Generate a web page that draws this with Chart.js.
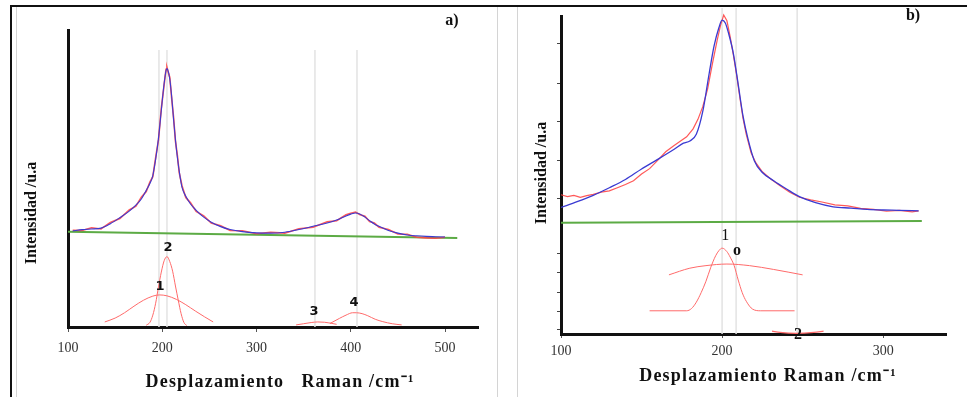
<!DOCTYPE html>
<html lang="es">
<head>
<meta charset="utf-8">
<title>Espectros Raman</title>
<script src="https://cdn.jsdelivr.net/npm/chart.js@4.4.0/dist/chart.umd.min.js"></script>
<style>
  body { margin: 0; background: #fff; }
  #lienzo { position: relative; width: 967px; height: 397px; overflow: hidden; }
  #lienzo canvas { position: absolute; top: 0; }
  #graficoA { left: 0; }
  #graficoB { left: 490px; }
  .linea { position: absolute; }
</style>
</head>
<body>
<div id="lienzo">
  <div class="linea" style="left:10px;top:5px;width:957px;border-top:2px solid #111"></div>
  <div class="linea" style="left:10px;top:5px;height:392px;border-left:2px solid #111"></div>
  <div class="linea" style="left:16px;top:7px;height:390px;border-left:1px solid #d4d4d4"></div>
  <div class="linea" style="left:497px;top:7px;height:390px;border-left:1px solid #d4d4d4"></div>
  <div class="linea" style="left:517px;top:7px;height:390px;border-left:1px solid #d4d4d4"></div>
  <canvas id="graficoA" width="490" height="397"></canvas>
  <canvas id="graficoB" width="477" height="397"></canvas>
</div>
<script>
// ---- Panel a) ----
const ramanA = [105,115,125,135,145,155,165,172,178,183,187,190,193,196,199,202,204,205,206,208,210,212,214,216,218,221,225,230,236,244,252,262,272,285,300,315,330,345,360,375,385,395,400,405,410,415,420,425,430,440,450,460,470,480,490,500];
const experimentalA = [32.6,32.5,33.4,33.0,35.2,36.5,39.4,40.7,43.8,45.6,48.9,50.6,57.0,63.0,73.6,81.6,86.8,87.4,86.2,84.0,77.0,70.6,62.6,57.9,52.0,47.5,43.6,41.8,38.9,37.4,35.0,34.1,32.5,32.4,31.4,31.9,31.6,33.1,33.6,35.4,35.8,37.8,38.3,38.7,37.8,37.3,35.5,35.0,33.6,32.8,31.3,31.2,30.2,30.0,29.9,30.2];
const ajusteA = [32.3,32.8,33.0,33.3,34.8,36.8,39.0,41.0,43.2,46.0,48.4,51.0,56.5,63.5,73.0,82.0,86.3,87.0,86.5,83.5,77.5,70.0,63.0,57.3,52.5,47.0,44.0,41.4,39.3,37.0,35.3,33.8,32.8,32.1,31.7,31.6,31.9,32.8,33.9,35.0,36.0,37.4,38.0,38.4,38.0,37.0,35.8,34.7,33.9,32.5,31.6,31.0,30.7,30.5,30.4,30.3];
const lineaBaseXA = [100, 513];
const lineaBaseA = [32.1, 30.0];
const banda1XA = [139,150,160,170,180,190,197,205,215,225,235,245,254];
const banda1A = [1.7,3.0,4.8,7.0,9.0,10.4,10.8,10.5,9.3,7.5,5.4,3.4,1.7];
const banda2XA = [183,187,190,193,196,199,202,205,208,211,214,217,220,223,226];
const banda2A = [0.6,1.6,4.0,8.0,13.5,18.5,22.3,23.7,22.0,18.8,13.8,9.0,4.5,1.5,0.5];
const banda3XA = [342,350,358,365,372,380,385];
const banda3A = [0.7,1.1,1.5,1.7,1.6,1.2,0.9];
const banda4XA = [378,388,395,402,406,412,418,426,434,444,454];
const banda4A = [1.2,2.9,4.0,4.8,4.8,4.5,3.8,2.6,1.8,1.1,0.7];
const rejillaA = [196.5, 205, 362, 406.6];
const altoRejillaA = 93.3;
const ticksXA = [100, 200, 300, 400, 500];
const picosA = ['1', '2', '3', '4'];
const picosXA = [197.6, 206, 361, 403.4];
const picosYA = [13.5, 26.6, 5.1, 8.1];

// ---- Panel b) ----
const ramanExpB = [100,104,108,112,116,120,125,130,135,140,145,150,155,160,165,170,174,178,182,185,188,191,194,197,199,201,203,205,207,209,211,213,215,218,221,225,230,236,242,248,255,262,270,278,286,294,302,310,318,322];
const experimentalB = [43.8,43.2,43.6,43.0,43.5,43.9,44.6,45.0,46.0,47.0,48.2,50.3,52.0,54.6,57.3,59.2,60.6,62.0,64.5,67.5,71.5,77.0,85.0,92.5,97.0,100.3,98.5,93.5,87.8,81.5,74.5,67.8,62.8,57.0,53.8,51.0,48.8,46.6,44.6,43.0,42.2,41.5,40.6,40.3,39.5,39.2,38.6,38.9,38.4,38.7];
const ramanAjusteB = [100,110,120,130,140,150,160,170,176,180,184,188,192,195,198,200,202,204,207,210,213,216,220,225,232,240,248,258,269,280,290,300,310,322];
const ajusteB = [39.8,41.6,43.6,46.0,48.6,51.9,54.9,58.0,60.0,60.7,62.8,70.0,82.0,90.5,96.3,98.7,97.8,94.6,88.2,78.5,68.5,61.5,54.5,50.8,48.2,45.6,43.2,41.3,40.0,39.6,39.2,39.0,38.9,38.7];
const lineaBaseXB = [100, 324];
const lineaBaseB = [35.0, 35.5];
const banda1XB = [155,178,181,184,187,190,193,196,198,200,203,205,207.5,210,212.5,215,219,224,245];
const banda1B = [7.3,7.3,8.0,10.0,13.0,16.6,21.0,24.6,26.2,27.0,25.9,24.2,21.5,17.0,13.0,10.3,7.8,7.3,7.3];
const bandaOXB = [167,180,190,203,217,232,250];
const bandaOB = [18.6,20.7,21.5,22.0,21.5,20.3,18.6];
const banda2XB = [231,236,246,257,263];
const banda2B = [0.9,0.5,0.2,0.5,0.9];
const rejillaB = [200, 208.7, 246.6];
const altoRejillaB = 102.5;
const ticksXB = [100, 200, 300];
const ticksYB = [91.2, 78.9, 66.7, 54.7, 42.5, 25.2, 19.2, 13.2, 7.2, 1.3];
const picosB = ['1', 'o', '2'];
const picosXB = [201.9, 209.3, 247.2];
const picosYB = [30.8, 26.1, -0.3];

const ROJO = 'rgba(255, 70, 70, 0.9)';
const AZUL = '#3a3ad2';
const VERDE = '#5cab45';
const BANDA = '#ff6a6a';
const SERIF = '"Liberation Serif", "Times New Roman", serif';

function serie(xs, ys) {
    return xs.map((x, i) => ({ x: x, y: ys[i] }));
}

function linea(data, color, ancho, orden, extra) {
    return Object.assign({
        data: data,
        borderColor: color,
        borderWidth: ancho,
        pointRadius: 0,
        fill: false,
        order: orden
    }, extra || {});
}

function rejilla(valores, alto, clip) {
    return valores.map(v => linea([{ x: v, y: 0 }, { x: v, y: alto }], '#e3e3e3', 1.5, 20, { clip: clip }));
}

// textos del panel: numeros de banda, titulos de ejes, letra del panel
function rotulos(cfg) {
    return {
        id: 'rotulos',
        afterDraw(chart) {
            const ctx = chart.ctx;
            const sx = chart.scales.x, sy = chart.scales.y;
            ctx.save();
            ctx.fillStyle = '#111';
            ctx.textAlign = 'center';
            ctx.textBaseline = 'middle';
            cfg.picos.forEach((t, i) => {
                ctx.font = cfg.fuentePicos[i];
                ctx.fillText(t, sx.getPixelForValue(cfg.picosX[i]), sy.getPixelForValue(cfg.picosY[i]));
            });
            ctx.font = 'bold 16px ' + SERIF;
            ctx.fillText(cfg.letra, cfg.letraPos[0], cfg.letraPos[1]);
            ctx.font = 'bold 18px ' + SERIF;
            ctx.letterSpacing = '1.2px';
            ctx.fillText(cfg.tituloX, cfg.tituloXPos[0], cfg.tituloXPos[1]);
            ctx.letterSpacing = '0px';
            ctx.font = 'bold 16px ' + SERIF;
            ctx.translate(cfg.tituloYPos[0], cfg.tituloYPos[1]);
            ctx.rotate(-Math.PI / 2);
            ctx.fillText('Intensidad /u.a', 0, 0);
            ctx.restore();
        }
    };
}

function opciones(cfg) {
    return {
        responsive: false,
        animation: false,
        layout: { padding: cfg.padding },
        plugins: { legend: { display: false }, tooltip: { enabled: false } },
        elements: { line: { tension: 0 } },
        scales: {
            x: {
                type: 'linear',
                min: cfg.xMin,
                max: cfg.xMax,
                afterBuildTicks: s => { s.ticks = cfg.ticksX.map(v => ({ value: v })); },
                afterFit: s => { s.height = cfg.altoX; },
                grid: { drawOnChartArea: false, drawTicks: true, tickLength: cfg.largoTick, color: '#555' },
                border: { color: '#111', width: 3 },
                ticks: { padding: cfg.padTick, color: '#333', font: { family: SERIF, size: 14 } }
            },
            y: {
                type: 'linear',
                min: 0,
                max: 100,
                afterBuildTicks: s => { s.ticks = cfg.ticksY.map(v => ({ value: v })); },
                afterFit: s => { s.width = cfg.anchoY; },
                grid: { display: cfg.ticksY.length > 0, drawOnChartArea: false, drawTicks: true, tickLength: 4, color: '#444' },
                border: { color: '#111', width: 3 },
                ticks: { display: false }
            }
        }
    };
}

function graficarA() {
    const datasets = rejilla(rejillaA, altoRejillaA, true).concat([
        linea(serie(lineaBaseXA, lineaBaseA), VERDE, 2, 6),
        linea(serie(banda1XA, banda1A), BANDA, 1, 5, { cubicInterpolationMode: 'monotone' }),
        linea(serie(banda2XA, banda2A), BANDA, 1, 5, { cubicInterpolationMode: 'monotone' }),
        linea(serie(banda3XA, banda3A), BANDA, 1, 5, { cubicInterpolationMode: 'monotone' }),
        linea(serie(banda4XA, banda4A), BANDA, 1, 5, { cubicInterpolationMode: 'monotone' }),
        linea(serie(ramanA, experimentalA), ROJO, 1.6, 3),
        linea(serie(ramanA, ajusteA), AZUL, 1.1, 2, { cubicInterpolationMode: 'monotone' })
    ]);
    const cfg = {
        padding: { left: 0, top: 30, right: 12, bottom: 0 },
        xMin: 100, xMax: 535, ticksX: ticksXA, ticksY: [],
        altoX: 70, anchoY: 68, largoTick: 5, padTick: 8
    };
    new Chart(document.getElementById('graficoA'), {
        type: 'line',
        data: { datasets: datasets },
        options: opciones(cfg),
        plugins: [rotulos({
            picos: picosA, picosX: picosXA, picosY: picosYA,
            fuentePicos: picosA.map(() => 'bold 13px "DejaVu Sans", sans-serif'),
            letra: 'a)', letraPos: [452, 21],
            tituloX: 'Desplazamiento   Raman /cm\u207B\u00B9', tituloXPos: [280, 382],
            tituloYPos: [32, 213]
        })]
    });
}

function graficarB() {
    const datasets = rejilla(rejillaB, altoRejillaB, false).concat([
        linea(serie(lineaBaseXB, lineaBaseB), VERDE, 2, 6),
        linea(serie(banda1XB, banda1B), BANDA, 1, 5, { cubicInterpolationMode: 'monotone' }),
        linea(serie(bandaOXB, bandaOB), BANDA, 1, 5, { cubicInterpolationMode: 'monotone' }),
        linea(serie(banda2XB, banda2B), BANDA, 1.2, 5, { cubicInterpolationMode: 'monotone', clip: false }),
        linea(serie(ramanExpB, experimentalB), ROJO, 1.2, 3, { clip: false }),
        linea(serie(ramanAjusteB, ajusteB), AZUL, 1.3, 2, { cubicInterpolationMode: 'monotone' })
    ]);
    const cfg = {
        padding: { left: 0, top: 16, right: 21, bottom: 0 },
        xMin: 100, xMax: 339, ticksX: ticksXB, ticksY: ticksYB,
        altoX: 63, anchoY: 71, largoTick: 4, padTick: 5
    };
    new Chart(document.getElementById('graficoB'), {
        type: 'line',
        data: { datasets: datasets },
        options: opciones(cfg),
        plugins: [rotulos({
            picos: picosB, picosX: picosXB, picosY: picosYB,
            fuentePicos: ['16px ' + SERIF, 'bold 16px ' + SERIF, 'bold 16px ' + SERIF],
            letra: 'b)', letraPos: [423, 16],
            tituloX: 'Desplazamiento Raman /cm\u207B\u00B9', tituloXPos: [278, 376],
            tituloYPos: [52, 173]
        })]
    });
}

graficarA();
graficarB();
</script>
</body>
</html>
